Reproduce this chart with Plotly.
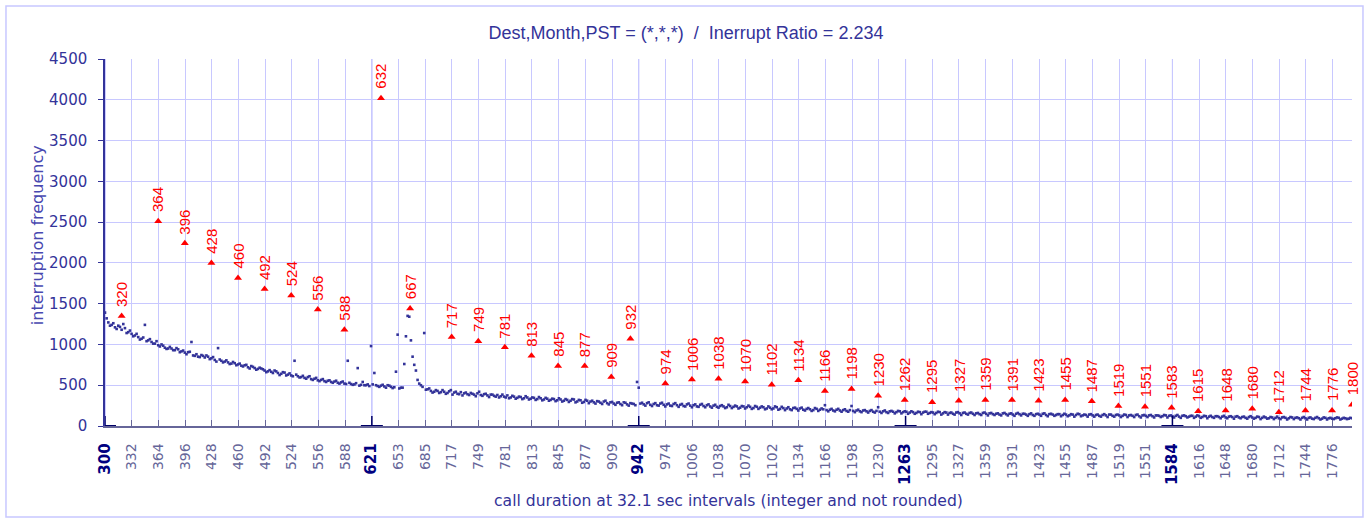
import plotly.graph_objects as go

# ---------------- data ----------------
title_text = "Dest,Month,PST = (*,*,*)\u00a0\u00a0/\u00a0\u00a0Inerrupt Ratio = 2.234"
x_title = "call duration at 32.1 sec intervals (integer and not rounded)"
y_title = "interruption frequency"

# call durations sampled every 4 sec starting at 300 s
duration_start = 300
duration_step = 4
frequency = [
    1390, 1270, 1240, 1210, 1230, 1180, 1200, 1150, 1130, 1110, 1090, 1070, 1240, 1050, 1030, 1010, 990, 1000, 960, 950,
    950, 930, 940, 915, 900, 905, 1030, 860, 850, 870, 840, 850, 830, 810, 955, 800, 790, 780, 765, 770,
    755, 740, 745, 720, 735, 710, 700, 705, 680, 670, 665, 680, 650, 640, 655, 630, 620, 800, 610, 600,
    590, 600, 575, 580, 560, 565, 550, 555, 540, 545, 530, 535, 520, 800, 515, 510, 710, 505, 500, 510,
    980, 650, 490, 495, 485, 500, 480, 475, 1120, 470, 760, 1350, 1050, 750, 565, 500, 1140, 450, 430, 420,
    430, 415, 420, 405, 440, 410, 395, 415, 400, 390, 405, 385, 400, 380, 390, 375, 385, 370, 380, 365,
    360, 375, 350, 360, 345, 355, 340, 350, 335, 345, 330, 340, 325, 335, 320, 330, 315, 325, 310, 320,
    310, 325, 300, 315, 295, 310, 300, 290, 305, 285, 300, 280, 290, 275, 285, 270, 290, 265, 280, 270,
    540, 275, 265, 280, 260, 270, 255, 275, 260, 265, 250, 270, 255, 260, 245, 265, 250, 255, 240, 260,
    245, 255, 240, 250, 235, 245, 240, 230, 245, 235, 240, 225, 240, 230, 235, 220, 235, 225, 230, 215,
    225, 215, 230, 210, 220, 215, 205, 220, 210, 215, 200, 210, 205, 195, 210, 200, 205, 195, 200, 190,
    200, 190, 195, 185, 195, 185, 190, 180, 190, 180, 185, 175, 185, 175, 180, 170, 180, 175, 170, 180,
    170, 175, 165, 170, 160, 170, 165, 175, 160, 165, 160, 170, 155, 165, 160, 150, 165, 155, 160, 150,
    160, 150, 155, 145, 160, 150, 155, 145, 150, 140, 155, 145, 150, 140, 150, 145, 150, 140, 145, 135,
    145, 140, 150, 135, 145, 140, 135, 145, 135, 140, 130, 140, 135, 145, 130, 135, 140, 130, 135, 125,
    135, 130, 140, 125, 135, 130, 125, 135, 130, 125, 135, 120, 130, 125, 130, 120, 130, 125, 120, 130,
    125, 120, 125, 115, 125, 120, 115, 125, 115, 120, 110, 120, 115, 110, 120, 110, 115, 105, 115, 110,
    115, 105, 110, 100, 110, 105, 100, 110, 100, 105, 95, 105, 100, 95, 105, 100, 95, 105, 100, 95,
    100, 95, 100, 90, 100, 95, 90, 100, 95, 90, 95, 100, 90, 95, 90, 95,
]

# in-between durations (302, 306, ... 1798 s)
duration_start_mid = 302
frequency_mid = [
    1320, 1230, 1260, 1190, 1215, 1250, 1140, 1170, 1100, 1130, 1060, 1085, 1040, 1065, 1010, 1040, 975, 985, 945, 970,
    930, 955, 905, 925, 880, 910, 865, 880, 845, 860, 865, 820, 845, 790, 815, 780, 805, 760, 785, 745,
    765, 730, 750, 705, 725, 690, 715, 695, 660, 685, 650, 670, 625, 660, 620, 645, 610, 630, 595, 615,
    580, 610, 565, 590, 550, 575, 540, 560, 530, 555, 520, 545, 515, 530, 505, 525, 495, 540, 500, 490,
    510, 500, 480, 505, 470, 495, 465, 666, 460, 470, 1100, 1340, 850, 680, 520, 480, 445, 460, 410, 440,
    405, 440, 395, 425, 385, 420, 390, 375, 410, 380, 395, 365, 420, 370, 395, 355, 385, 360, 350, 385,
    350, 340, 370, 335, 360, 330, 365, 325, 350, 320, 355, 315, 345, 310, 335, 305, 340, 300, 330, 295,
    330, 290, 320, 285, 320, 280, 310, 275, 300, 270, 310, 265, 295, 260, 290, 255, 285, 250, 275, 255,
    470, 285, 250, 290, 245, 280, 250, 285, 240, 275, 245, 280, 235, 270, 240, 275, 230, 265, 235, 270,
    230, 265, 225, 260, 225, 255, 220, 260, 220, 250, 215, 245, 215, 250, 210, 245, 210, 240, 205, 240,
    205, 240, 200, 235, 195, 230, 195, 225, 190, 225, 190, 220, 185, 220, 185, 215, 255, 180, 210, 180,
    210, 175, 205, 175, 245, 170, 200, 170, 195, 165, 195, 165, 230, 160, 190, 160, 185, 155, 185, 155,
    180, 150, 180, 150, 175, 145, 175, 150, 170, 145, 175, 140, 170, 140, 165, 140, 170, 135, 165, 140,
    165, 135, 160, 135, 165, 130, 160, 135, 155, 130, 160, 130, 155, 125, 160, 130, 150, 125, 155, 125,
    150, 125, 155, 120, 150, 125, 145, 120, 150, 120, 145, 115, 150, 120, 140, 115, 145, 115, 140, 115,
    145, 110, 140, 115, 140, 110, 140, 110, 135, 110, 140, 105, 135, 110, 135, 105, 130, 110, 135, 105,
    130, 105, 135, 100, 130, 105, 125, 100, 130, 100, 125, 95, 125, 100, 120, 95, 125, 95, 120, 90,
    120, 95, 115, 90, 120, 90, 115, 85, 115, 90, 110, 85, 115, 85, 110, 80, 110, 85, 105, 80,
    110, 80, 105, 85, 110, 80, 105, 80, 100, 85, 105, 80, 100, 85, 100,
]

peak_duration = [320, 364, 396, 428, 460, 492, 524, 556, 588, 632, 667, 717, 749, 781, 813, 845,
                 877, 909, 932, 974, 1006, 1038, 1070, 1102, 1134, 1166, 1198, 1230, 1262, 1295,
                 1327, 1359, 1391, 1423, 1455, 1487, 1519, 1551, 1583, 1615, 1648, 1680, 1712,
                 1744, 1776, 1800]
peak_frequency = [1350, 2510, 2240, 2000, 1815, 1680, 1600, 1430, 1180, 4020, 1440, 1090, 1040, 965,
                  860, 735, 735, 600, 1070, 520, 570, 580, 545, 505, 560, 430, 455, 370, 320, 290,
                  310, 320, 320, 310, 320, 305, 245, 235, 225, 180, 190, 210, 170, 190, 190, 260]

tick_labels = [300, 332, 364, 396, 428, 460, 492, 524, 556, 588, 621, 653, 685, 717, 749, 781,
               813, 845, 877, 909, 942, 974, 1006, 1038, 1070, 1102, 1134, 1166, 1198, 1230,
               1263, 1295, 1327, 1359, 1391, 1423, 1455, 1487, 1519, 1551, 1584, 1616, 1648,
               1680, 1712, 1744, 1776]
tick_interval = 32.1

# ---------------- figure ----------------
durations = [duration_start + duration_step * i for i in range(len(frequency))]
durations_mid = [duration_start_mid + duration_step * i for i in range(len(frequency_mid))]
tick_vals = [duration_start + tick_interval * i for i in range(len(tick_labels))]
major_vals = [v for i, v in enumerate(tick_vals) if i % 10 == 0]
tick_text = [
    (f"<span style='color:#000080;font-size:15px'><b>{t}</b></span>" if i % 10 == 0 else str(t))
    for i, t in enumerate(tick_labels)
]

NAVY = "#333399"
GRID = "#c8c8ff"

fig = go.Figure()
for xs, ys in ((durations, frequency), (durations_mid, frequency_mid)):
    fig.add_trace(go.Scatter(
        x=xs, y=ys, mode="markers",
        marker=dict(symbol="square", size=2.6, color=NAVY, line=dict(width=0)),
        showlegend=False,
    ))
fig.add_trace(go.Scatter(
    x=peak_duration, y=peak_frequency, mode="markers",
    marker=dict(symbol="triangle-up", size=7, color="#ff0000", line=dict(width=0)),
    showlegend=False,
))

annotations = []
for px, py in zip(peak_duration, peak_frequency):
    annotations.append(dict(
        x=px, y=py, xref="x", yref="y", text=str(px), showarrow=False,
        textangle=-90, xanchor="center", yanchor="bottom", yshift=7,
        font=dict(family="Liberation Sans", size=15, color="#ff0000"),
    ))
annotations.append(dict(
    text=x_title, xref="paper", yref="paper", x=0.5, y=-0.204, showarrow=False,
    xanchor="center", yanchor="middle",
    font=dict(family="DejaVu Sans", size=15.6, color=NAVY),
))
annotations.append(dict(
    text=y_title, xref="paper", yref="paper", x=-0.0545, y=0.52, showarrow=False,
    textangle=-90, xanchor="center", yanchor="middle",
    font=dict(family="DejaVu Sans", size=16, color="#4848b0"),
))

shapes = []
for v in major_vals:
    shapes.append(dict(type="line", xref="x", yref="paper", x0=v, x1=v, y0=0, y1=1,
                       line=dict(color="#9999ff", width=1), layer="between"))
    shapes.append(dict(type="line", xref="x", yref="y", ysizemode="pixel", yanchor=0,
                       x0=v, x1=v, y0=-10, y1=10, line=dict(color="#000066", width=1.5)))
    shapes.append(dict(type="line", xref="x", yref="y", xsizemode="pixel", xanchor=v,
                       x0=-11, x1=11, y0=0, y1=0, line=dict(color="#000066", width=2)))
# outer frame
shapes.append(dict(type="rect", xref="paper", yref="paper",
                   x0=-0.0794, x1=1.0088, y0=-0.248, y1=1.1444,
                   line=dict(color=GRID, width=1.5), fillcolor="rgba(0,0,0,0)"))

fig.update_layout(
    width=1372, height=524, autosize=False,
    margin=dict(l=105, r=20, t=59, b=98),
    paper_bgcolor="white", plot_bgcolor="white",
    font=dict(family="DejaVu Sans", color=NAVY),
    title=dict(text=title_text, x=0.5, xref="container", y=0.937, yref="container",
               xanchor="center", yanchor="middle",
               font=dict(family="Liberation Sans", size=18, color=NAVY)),
    xaxis=dict(
        range=[300, 1800], tickmode="array", tickvals=tick_vals, ticktext=tick_text,
        tickangle=-90, ticks="inside", ticklen=6, tickcolor="#666699",
        showgrid=True, gridcolor=GRID, gridwidth=1,
        showline=True, linecolor="#666699", linewidth=1.5, zeroline=False,
        tickfont=dict(family="DejaVu Sans", size=14, color="#666699"),
        ticklabelstandoff=10,
    ),
    yaxis=dict(
        range=[0, 4500], dtick=500, tick0=0, ticks="outside", ticklen=5, tickcolor=NAVY,
        showgrid=True, gridcolor=GRID, gridwidth=1,
        showline=True, linecolor=NAVY, linewidth=1.5, zeroline=False,
        tickfont=dict(family="DejaVu Sans", size=15, color=NAVY),
        ticklabelstandoff=8,
    ),
    annotations=annotations,
    shapes=shapes,
)

fig.write_html("out.html", config={"displayModeBar": False},
               post_script="document.body.style.margin='0';document.body.style.overflow='hidden';")
